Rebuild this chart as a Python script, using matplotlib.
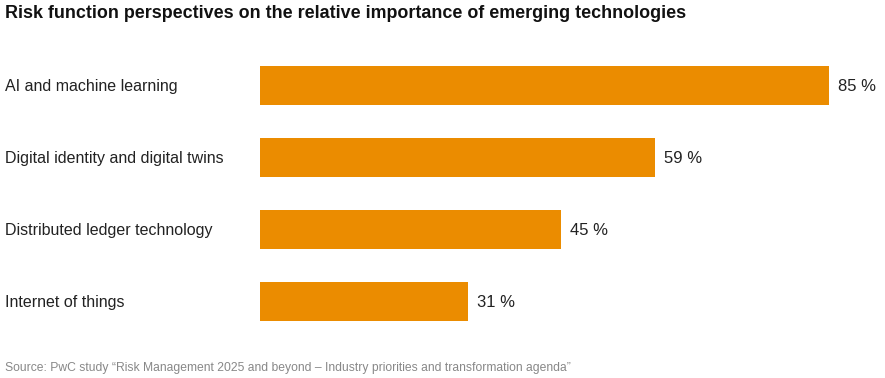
import matplotlib.pyplot as plt

categories = ['AI and machine learning', 'Digital identity and digital twins',
              'Distributed ledger technology', 'Internet of things']
values = [85, 59, 45, 31]

plt.rcParams['font.family'] = ['Liberation Sans', 'DejaVu Sans']

W, H = 885, 378
fig = plt.figure(figsize=(W / 100, H / 100), dpi=100)

# axes placed in pixel coords: bars start at x=260, rows 72 px apart
px_per_pct = (829 - 260) / 85
ax = fig.add_axes([260 / W, (H - 337.5) / H, (W - 260) / W, 288 / H])
ax.set_xlim(0, (W - 260) / px_per_pct)
ax.set_ylim(3.5, -0.5)

y = list(range(len(categories)))
ax.barh(y, values, height=0.55, color='#EB8C00')
for yi, v in zip(y, values):
    ax.text(v + 9 / px_per_pct, yi + 0.015, f'{v} %', va='center', ha='left',
            fontsize=12, color='#222222')
ax.axis('off')

for yi, c in zip(y, categories):
    fig.text(5 / W, (H - (86.5 + 72 * yi)) / H, c, va='center', ha='left',
             fontsize=11.5, color='#222222')

fig.text(5 / W, (H - 13) / H, 'Risk function perspectives on the relative importance of emerging technologies',
         fontsize=12.9, fontweight='bold', va='center', ha='left', color='#111111')
fig.text(5 / W, (H - 368) / H,
         'Source: PwC study \u201cRisk Management 2025 and beyond \u2013 Industry priorities and transformation agenda\u201d',
         fontsize=8.7, va='center', ha='left', color='#888888')

fig.savefig('out.png', dpi=100)
